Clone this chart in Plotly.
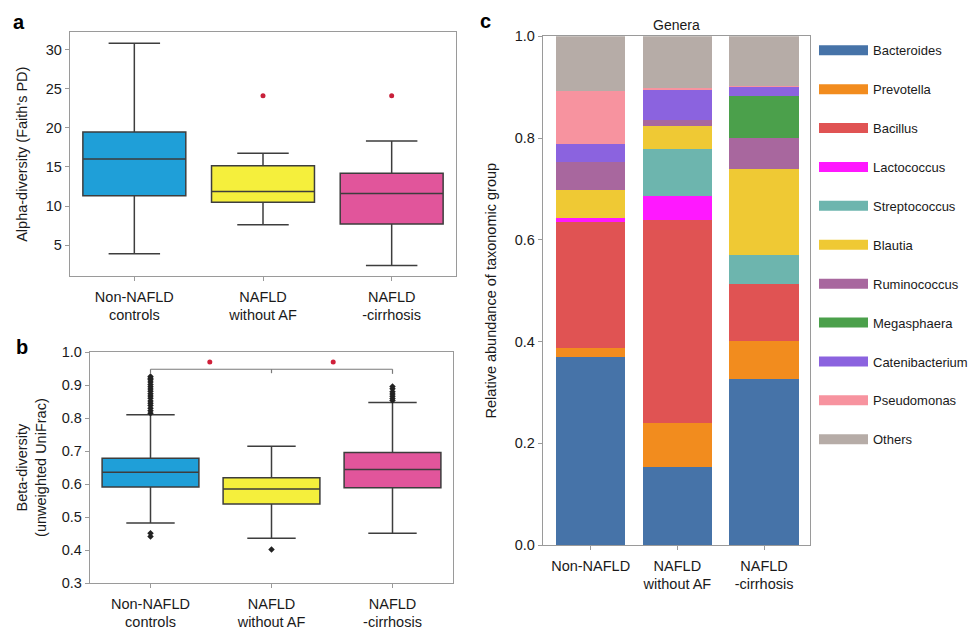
import plotly.graph_objects as go

# ---------------- data ----------------
groups = ["Non-NAFLD<br>controls", "NAFLD<br>without AF", "NAFLD<br>-cirrhosis"]
c_groups = ["Non-NAFLD", "NAFLD<br>without AF", "NAFLD<br>-cirrhosis"]
group_pos = [0, 1, 2]
box_colors = ["#1f9fd8", "#f5ef3c", "#e1559b"]

# panel a: alpha diversity (Faith's PD)
alpha_low = [3.9, 7.6, 2.4]
alpha_q1 = [11.3, 10.5, 7.7]
alpha_median = [16.0, 11.85, 11.6]
alpha_q3 = [19.45, 15.15, 14.2]
alpha_high = [30.8, 16.75, 18.3]
alpha_outlier_group = [1, 2]
alpha_outlier_value = [24.1, 24.1]
alpha_ticks = [5, 10, 15, 20, 25, 30]

# panel b: beta diversity (unweighted UniFrac)
beta_low = [0.482, 0.436, 0.451]
beta_q1 = [0.591, 0.540, 0.589]
beta_median = [0.636, 0.585, 0.644]
beta_q3 = [0.678, 0.619, 0.696]
beta_high = [0.810, 0.715, 0.847]
beta_outlier_group = [0, 0, 0, 0, 0, 0, 0, 0, 0, 0, 0, 0, 0, 0, 0, 0, 0, 0, 0,
                      1,
                      2, 2, 2, 2, 2, 2, 2]
beta_outlier_value = [0.441, 0.451, 0.815, 0.822, 0.830, 0.838, 0.845, 0.852,
                      0.860, 0.867, 0.874, 0.881, 0.888, 0.895, 0.902, 0.909,
                      0.916, 0.921, 0.926,
                      0.402,
                      0.853, 0.859, 0.866, 0.873, 0.880, 0.889, 0.896]
beta_ticks = [0.3, 0.4, 0.5, 0.6, 0.7, 0.8, 0.9, 1.0]
sig_x = [0.49, 1.51]
sig_y = [0.97, 0.97]

# panel c: genera relative abundance
genera = ["Bacteroides", "Prevotella", "Bacillus", "Lactococcus", "Streptococcus",
          "Blautia", "Ruminococcus", "Megasphaera", "Catenibacterium",
          "Pseudomonas", "Others"]
genera_colors = ["#4673a8", "#f28c1e", "#e05353", "#ff18ff", "#6db5ae",
                 "#efc934", "#a8679e", "#4ba04b", "#8b63df", "#f7939f", "#b6aca7"]
abund_non_nafld = [0.370, 0.017, 0.247, 0.008, 0.000, 0.056, 0.055, 0.000, 0.036, 0.103, 0.108]
abund_nafld = [0.153, 0.087, 0.399, 0.048, 0.091, 0.045, 0.013, 0.000, 0.059, 0.003, 0.102]
abund_cirrhosis = [0.327, 0.074, 0.112, 0.000, 0.057, 0.170, 0.060, 0.083, 0.017, 0.003, 0.097]
c_ticks = [0.0, 0.2, 0.4, 0.6, 0.8, 1.0]

# ---------------- figure ----------------
FONT = "Liberation Sans, Arial, Helvetica, sans-serif"
W, H = 973, 633
EDGE = "#3d3d3d"
FRAME = "#9a9a9a"
TXT = "#1a1a1a"

fig = go.Figure()

# panel a boxes
for i in range(3):
    fig.add_trace(go.Box(
        x=[group_pos[i]], q1=[alpha_q1[i]], median=[alpha_median[i]], q3=[alpha_q3[i]],
        lowerfence=[alpha_low[i]], upperfence=[alpha_high[i]],
        orientation="v", width=0.8, whiskerwidth=0.5, boxpoints=False,
        fillcolor=box_colors[i], line=dict(color=EDGE, width=1.5),
        xaxis="x", yaxis="y", showlegend=False, name=groups[i].replace("<br>", " ")))
fig.add_trace(go.Scatter(
    x=alpha_outlier_group, y=alpha_outlier_value, mode="markers",
    marker=dict(color="#c8203a", size=5), xaxis="x", yaxis="y", showlegend=False,
    name="outliers"))

# panel b boxes
for i in range(3):
    fig.add_trace(go.Box(
        x=[group_pos[i]], q1=[beta_q1[i]], median=[beta_median[i]], q3=[beta_q3[i]],
        lowerfence=[beta_low[i]], upperfence=[beta_high[i]],
        orientation="v", width=0.8, whiskerwidth=0.5, boxpoints=False,
        fillcolor=box_colors[i], line=dict(color=EDGE, width=1.5),
        xaxis="x2", yaxis="y2", showlegend=False, name=groups[i].replace("<br>", " ")))
fig.add_trace(go.Scatter(
    x=beta_outlier_group, y=beta_outlier_value, mode="markers",
    marker=dict(color="#222222", size=5, symbol="diamond"),
    xaxis="x2", yaxis="y2", showlegend=False, name="outliers"))
fig.add_trace(go.Scatter(
    x=sig_x, y=sig_y, mode="markers", marker=dict(color="#d0203a", size=5),
    xaxis="x2", yaxis="y2", showlegend=False, name="significance"))

# panel c stacked bars
for k, g in enumerate(genera):
    fig.add_trace(go.Bar(
        x=group_pos, y=[abund_non_nafld[k], abund_nafld[k], abund_cirrhosis[k]],
        marker=dict(color=genera_colors[k], line=dict(width=0)), width=0.8,
        name=g, legendgroup=g, showlegend=False, xaxis="x3", yaxis="y3"))
# legend entries (wide swatches)
for k, g in enumerate(genera):
    fig.add_trace(go.Scatter(
        x=[None], y=[None], mode="lines", line=dict(color=genera_colors[k], width=16),
        name=g, legendgroup=g, showlegend=True, xaxis="x3", yaxis="y3"))

# bracket for significance (panel b)
bracket = dict(type="line", xref="x2", yref="y2", line=dict(color="#7a7a7a", width=1.2))
shapes = [
    dict(bracket, x0=0, x1=2, y0=0.948, y1=0.948),
    dict(bracket, x0=0, x1=0, y0=0.948, y1=0.934),
    dict(bracket, x0=2, x1=2, y0=0.948, y1=0.934),
    dict(bracket, x0=1, x1=1, y0=0.948, y1=0.936),
]

def xa(domain, rng, ticktext, anchor):
    return dict(domain=domain, range=rng, anchor=anchor, tickmode="array",
                tickvals=group_pos, ticktext=ticktext, showline=True,
                linecolor=FRAME, linewidth=1.3, mirror=True, ticks="outside",
                ticklen=4, tickcolor=FRAME, showgrid=False, zeroline=False,
                ticklabelstandoff=3,
                tickfont=dict(size=14.5, color=TXT, family=FONT))

def ya(domain, rng, tickvals, fmt, title, standoff, anchor):
    return dict(domain=domain, range=rng, anchor=anchor, tickmode="array",
                tickvals=tickvals, tickformat=fmt, showline=True, linecolor=FRAME,
                linewidth=1.3, mirror=True, ticks="outside", ticklen=4,
                tickcolor=FRAME, showgrid=False, zeroline=False,
                tickfont=dict(size=14.5, color=TXT, family=FONT),
                title=dict(text=title, standoff=standoff,
                           font=dict(size=14.5, color=TXT, family=FONT)))

fig.update_layout(
    width=W, height=H,
    margin=dict(l=0, r=0, t=0, b=0),
    paper_bgcolor="white", plot_bgcolor="white",
    barmode="stack", bargap=0.2,
    font=dict(family=FONT, color=TXT),
    xaxis=xa([70 / W, 456 / W], [-0.5, 2.5], groups, "y"),
    yaxis=ya([1 - 275 / H, 1 - 25 / H], [1.05, 32.2], alpha_ticks, "d",
             "Alpha-diversity (Faith's PD)", 14, "x"),
    xaxis2=xa([90 / W, 453 / W], [-0.5, 2.5], groups, "y2"),
    yaxis2=ya([1 - 590 / H, 1 - 353 / H], [0.3, 1.0], beta_ticks, ".1f",
              "Beta-diversity<br>(unweighted UniFrac)", 11, "x2"),
    xaxis3=xa([543 / W, 810 / W], [-0.55, 2.53], c_groups, "y3"),
    yaxis3=ya([1 - 551 / H, 1 - 29 / H], [0, 1.0], c_ticks, ".1f",
              "Relative abundance of taxonomic group", 14, "x3"),
    shapes=shapes,
    legend=dict(x=814 / W, xanchor="left", y=1 - 28 / H, yanchor="top",
                font=dict(size=13, color=TXT, family=FONT),
                tracegroupgap=19, traceorder="grouped", itemwidth=49,
                bgcolor="rgba(0,0,0,0)"),
    annotations=[
        dict(text="<b>a</b>", x=11 / W, y=1 - 14 / H, xref="paper", yref="paper",
             xanchor="left", yanchor="middle", showarrow=False,
             font=dict(size=20, family=FONT, color="#000")),
        dict(text="<b>b</b>", x=14 / W, y=1 - 348 / H, xref="paper", yref="paper",
             xanchor="left", yanchor="middle", showarrow=False,
             font=dict(size=20, family=FONT, color="#000")),
        dict(text="<b>c</b>", x=478 / W, y=1 - 13 / H, xref="paper", yref="paper",
             xanchor="left", yanchor="middle", showarrow=False,
             font=dict(size=20, family=FONT, color="#000")),
        dict(text="Genera", x=(543 + 810) / 2 / W, y=1 - 17 / H, xref="paper",
             yref="paper", xanchor="center", yanchor="middle", showarrow=False,
             font=dict(size=14, family=FONT, color=TXT)),
    ],
)

fig.write_html("out.html", config={"displayModeBar": False},
               post_script="document.body.style.margin='0';document.body.style.overflow='hidden';")
